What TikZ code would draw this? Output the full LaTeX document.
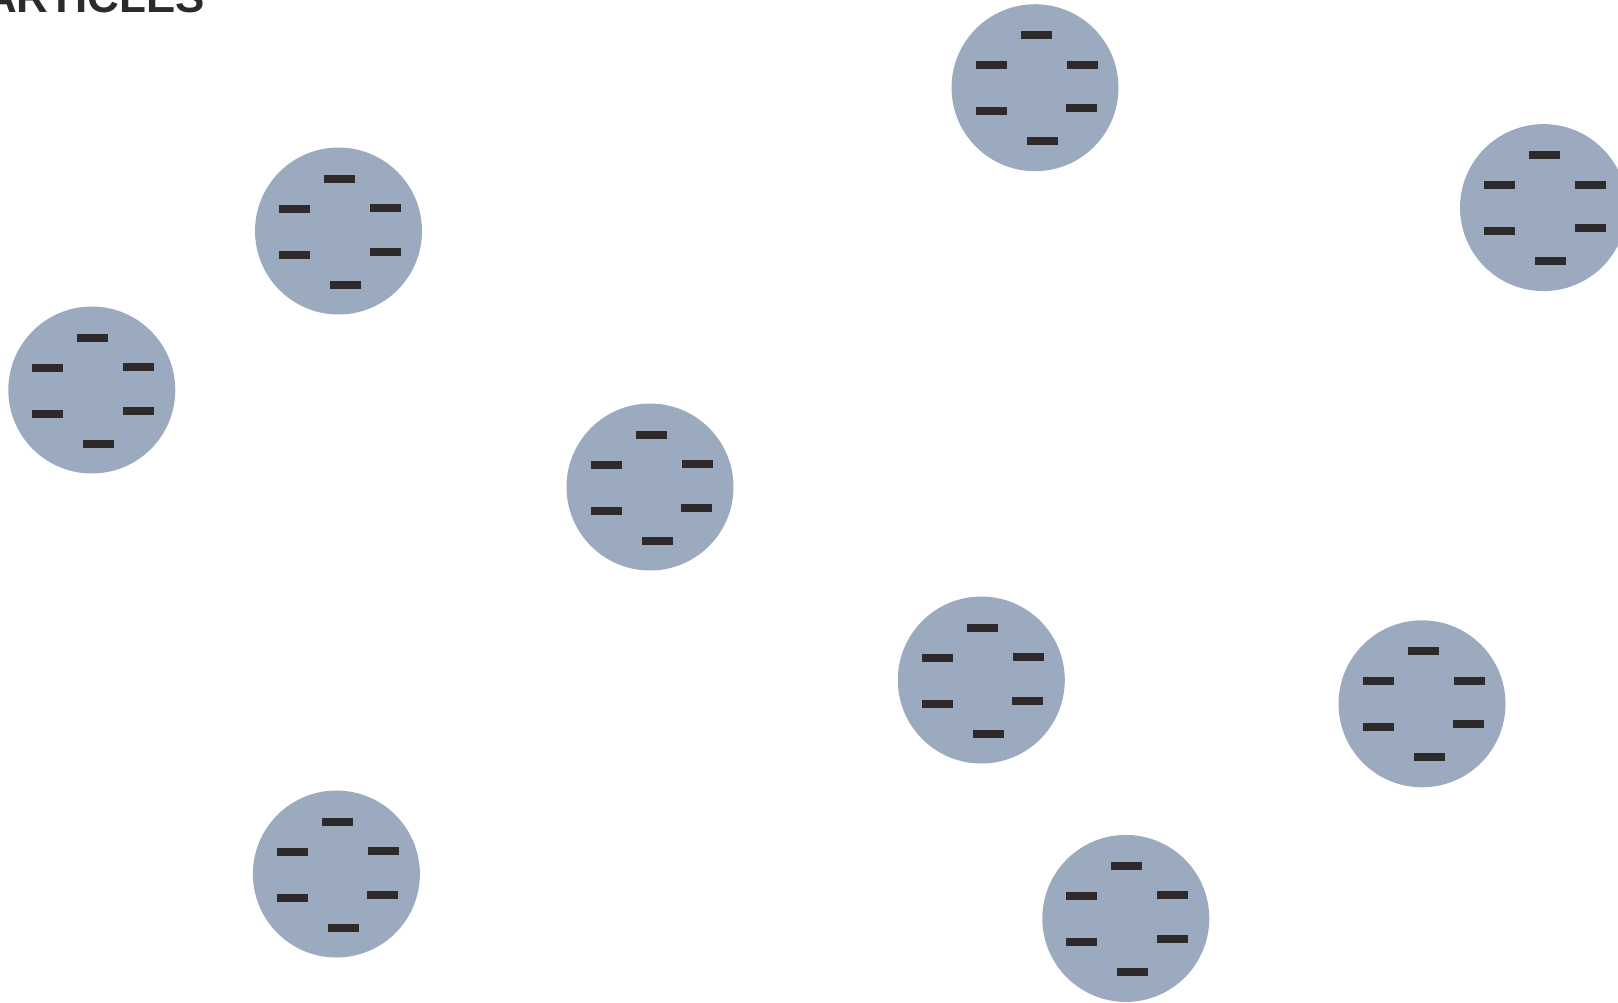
\documentclass[tikz,border=0pt]{standalone}
\usepackage{fontspec}
\setmainfont{Liberation Sans}
\definecolor{particle}{HTML}{9BAABF}
\definecolor{charge}{HTML}{2E2A2B}
\begin{document}
\begin{tikzpicture}[x=0.02cm, y=-0.02cm, every node/.style={font=\fontsize{25}{30}\selectfont\bfseries}]
  \useasboundingbox (0,0) rectangle (1618,1002);
  \clip (0,0) rectangle (1618,1002);
  % Title (cut off at the top)
  \node[anchor=base east, inner sep=0, text=charge] (title) at (205,12.5) {PARTICLES};
  % Particles
  \foreach \cx/\cy in {338.5/231, 91.8/390, 650/487, 1035/87.7, 1543.5/207.6,
                       981.3/680, 1422/703.8, 336.4/874, 1125.8/918.4} {
    \fill[particle] (\cx,\cy) circle (1.67cm);
    % Charges
    \foreach \dx/\dy in {1/-52.5, -44/-22.5, 47/-23, -44/23.5, 46.5/20.5, 7/53.5} {
      \fill[charge] (\cx+\dx-15.5,\cy+\dy-4) rectangle ++(31,8);
    }
  }
\end{tikzpicture}
\end{document}
